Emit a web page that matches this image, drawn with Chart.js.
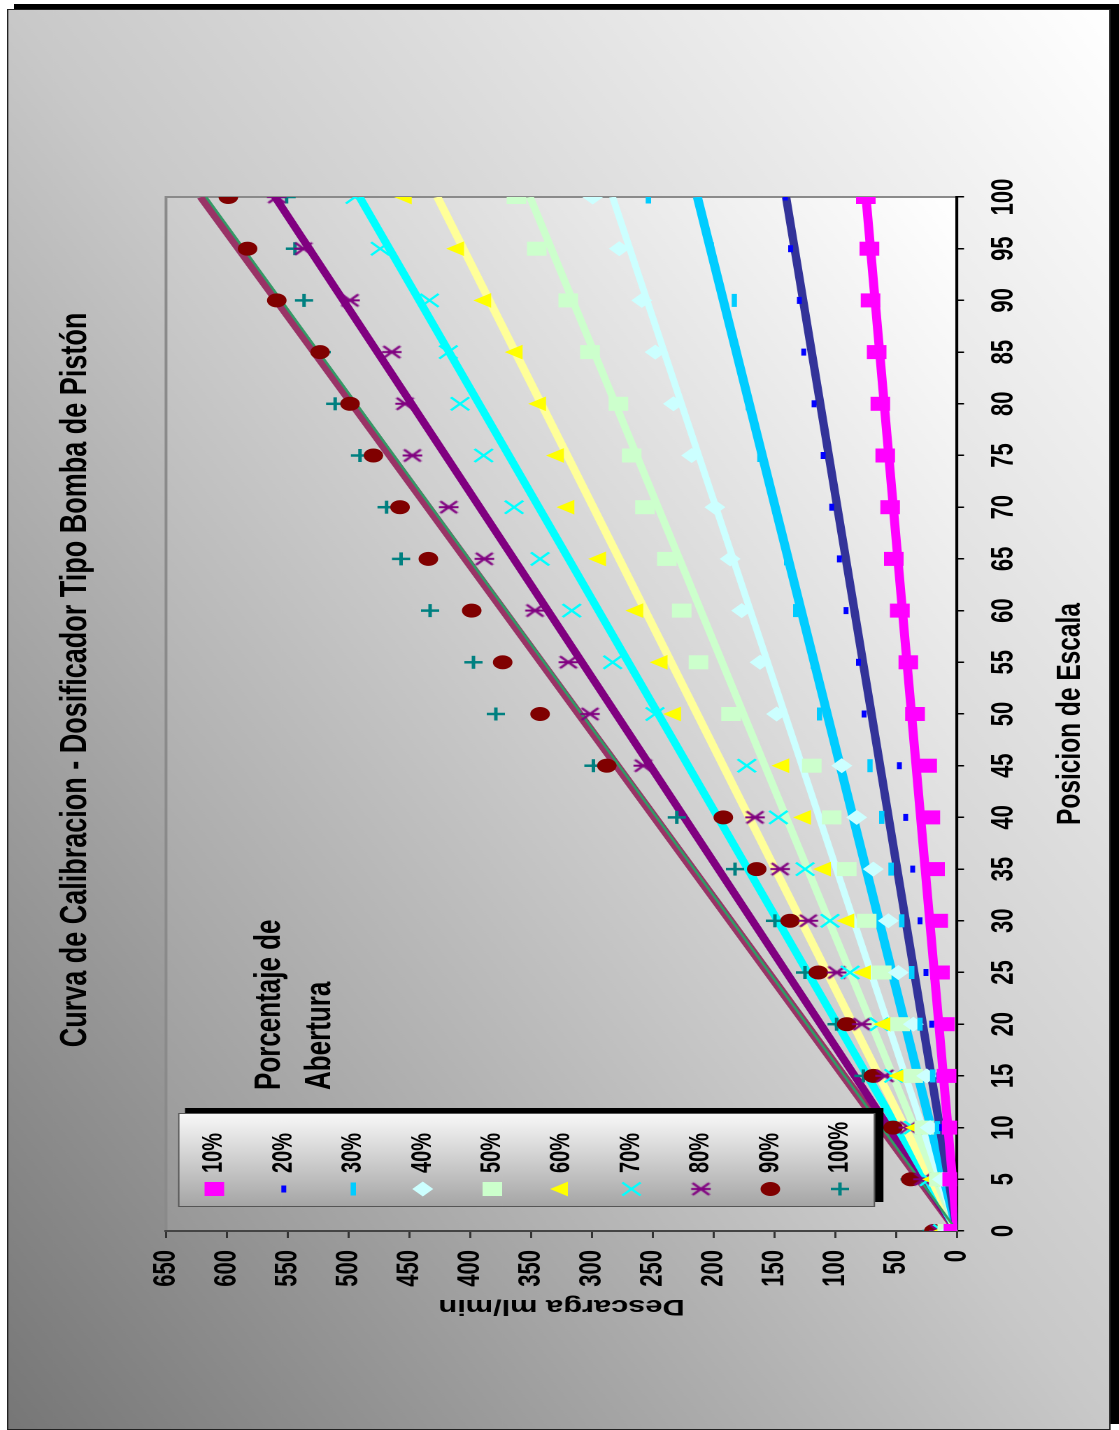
<!DOCTYPE html>
<html>
<head>
<meta charset="utf-8">
<title>Curva de Calibracion - Dosificador Tipo Bomba de Pistón</title>
<script src="https://cdn.jsdelivr.net/npm/chart.js@4.4.1/dist/chart.umd.min.js"></script>
<style>
  html, body { margin: 0; padding: 0; background: #fff; overflow: hidden; }
  body { width: 1119px; height: 1430px; position: relative; }
  /* el grafico se dibuja acostado y se gira, como en la hoja original */
  #giro { position: absolute; left: 0; top: 0; width: 1430px; height: 800px;
          transform-origin: 0 0;
          transform: translate(0, 1430px) rotate(-90deg) scaleY(1.39875); }
</style>
</head>
<body>
<div id="giro"><canvas id="curva" width="1430" height="800"></canvas></div>
<script>
// Posicion de escala (eje X)
const posiciones = [0, 5, 10, 15, 20, 25, 30, 35, 40, 45, 50, 55, 60, 65, 70, 75, 80, 85, 90, 95, 100];

// Descarga ml/min para cada porcentaje de abertura
const abertura10  = [3, 4, 4.4, 8.5, 10, 14, 15.4, 18, 22, 24.5, 34.5, 40, 47, 52, 55, 59, 63, 66, 71, 72, 75];
const abertura20  = [4, 6, 12.6, 15, 20.8, 25.5, 30.4, 36.4, 42.2, 47.4, 76.4, 81, 91.2, 96.7, 103, 110, 117.5, 126, 129.6, 136.7, 141];
const abertura30  = [5, 9, 16, 20, 30.4, 37.2, 45.4, 54.2, 61.9, 71.5, 113, 118, 132.5, 140, 149.6, 162, 171.5, 181, 183, 202, 253.6];
const abertura40  = [6, 12, 22, 25, 35.9, 48.2, 56.4, 68.8, 82.4, 94.7, 148.2, 161.9, 177, 186.5, 198.9, 218, 233, 248, 259, 277.5, 299.4];
const abertura50  = [8, 15, 27, 36, 46.8, 61.9, 74.2, 90.6, 103, 119.4, 185.7, 212.5, 226.2, 238.5, 256.4, 267.3, 278.3, 301.6, 319.5, 345.4, 362];
const abertura60  = [10, 19, 33, 46.8, 59.2, 75.6, 89.3, 108.5, 124.9, 142.7, 231.7, 242.7, 262.7, 293.3, 319.4, 328, 342.6, 361.8, 387.8, 410, 453];
const abertura70  = [12, 23, 36, 52, 64, 87.9, 104.4, 124.9, 146.8, 172.8, 248.2, 283, 316.6, 342.6, 364, 389, 408.4, 418, 433.5, 474, 494.7];
const abertura80  = [15, 28, 40, 59.2, 78.3, 98.9, 122.2, 145.4, 166, 257.8, 301.6, 319.4, 346.8, 388.4, 417.7, 447.5, 453.6, 464.5, 498.8, 537, 559];
const abertura90  = [19, 38, 52.6, 68.8, 90.6, 114, 137.2, 164.6, 192, 287.8, 342.6, 373.3, 398.8, 434.4, 457.7, 479.6, 498.8, 523.4, 559, 583, 598.8];
const abertura100 = [21, 39, 55, 77, 98.9, 124.9, 149.6, 182.4, 230.3, 298.8, 379, 397.4, 433, 456.9, 468.7, 490.6, 511, 522, 536.6, 544, 551];

const etiquetas = ['10%', '20%', '30%', '40%', '50%', '60%', '70%', '80%', '90%', '100%'];

// lineas de tendencia: valor en posicion 0 y en posicion 100
const tendenciaInicio = [0, 0, 0, 0, 0, 0, 0, 0, 0, 0];
const tendenciaFin    = [74.8, 140.5, 213.4, 283, 351, 427, 491, 560.4, 621, 617];

// eje de descarga
const descargaMin = 0, descargaMax = 650, descargaPaso = 50;

const series = [abertura10, abertura20, abertura30, abertura40, abertura50,
                abertura60, abertura70, abertura80, abertura90, abertura100];

const S = 1.39875; // estiramiento vertical del dibujo acostado

// asterisco: aspa con una barra (marcador del 80%)
function asterisco(color) {
  const c = document.createElement('canvas');
  c.width = 16; c.height = 16;
  const g = c.getContext('2d');
  g.strokeStyle = color;
  g.lineWidth = 2;
  g.beginPath();
  g.moveTo(2, 2); g.lineTo(14, 14);
  g.moveTo(14, 2); g.lineTo(2, 14);
  g.moveTo(8, 1); g.lineTo(8, 15);
  g.stroke();
  return c;
}

// estilo de cada serie (marcador y linea de tendencia)
const estilos = [
  { color: '#FF00FF', linea: '#FF00FF', forma: 'rect',     r: 9.2, bw: 1,   lw: 6.5 },
  { color: '#0000FF', linea: '#333399', forma: 'line',     r: 3.5, bw: 3.5, lw: 6 },
  { color: '#00CCFF', linea: '#00CCFF', forma: 'line',     r: 6.5, bw: 3.8, lw: 6.5 },
  { color: '#CCFFFF', linea: '#CCFFFF', forma: 'rectRot',  r: 6.8, bw: 1,   lw: 5 },
  { color: '#CCFFCC', linea: '#CCFFCC', forma: 'rect',     r: 9.2, bw: 1,   lw: 5.5 },
  { color: '#FFFF00', linea: '#FFFF99', forma: 'triangle', r: 7.5, bw: 1,   lw: 6 },
  { color: '#00FFFF', linea: '#00FFFF', forma: 'crossRot', r: 9.2, bw: 2,   lw: 6 },
  { color: '#800080', linea: '#800080', forma: asterisco('#800080'), r: 8, bw: 2, lw: 6 },
  { color: '#800000', linea: '#993366', forma: 'circle',   r: 6.5, bw: 1,   lw: 6.5 },
  { color: '#008080', linea: '#339966', forma: 'cross',    r: 6.5, bw: 2.5, lw: 2 }
];

const fuente = "'Liberation Sans', Arial, Helvetica, sans-serif";
Chart.defaults.font.family = fuente;
Chart.defaults.font.weight = 'bold';
Chart.defaults.color = '#000';

// datasets: puntos medidos + linea de tendencia por serie
const datasets = [];
series.forEach((serie, i) => {
  const e = estilos[i];
  datasets.push({
    type: 'scatter',
    label: etiquetas[i],
    data: posiciones.map((p, k) => ({ x: p, y: serie[k] })),
    pointStyle: e.forma,
    pointRadius: e.r,
    pointBackgroundColor: e.color,
    pointBorderColor: e.color,
    pointBorderWidth: e.bw,
    order: 0
  });
});
series.forEach((serie, i) => {
  const e = estilos[i];
  datasets.push({
    type: 'line',
    label: 'Tendencia ' + etiquetas[i],
    data: [
      { x: posiciones[0], y: tendenciaInicio[i] },
      { x: posiciones[posiciones.length - 1], y: tendenciaFin[i] }
    ],
    borderColor: e.linea,
    borderWidth: e.lw,
    pointRadius: 0,
    fill: false,
    order: i === 9 ? 1 : 2
  });
});

// degradado diagonal medido en la imagen ya estirada (esquinas opuestas en el tono medio)
function degradado(ctx, x0, y0, w, h, paradas) {
  const W = w, H = h * S;
  const d = Math.hypot(W, H);
  const Dx = H / d, Dy = W / d;
  const L = W * H / d;            // media longitud de la linea del degradado
  const qx = Dx / (2 * L), qy = S * Dy / (2 * L);
  const q2 = qx * qx + qy * qy;
  const vx = qx / q2, vy = qy / q2;
  const cx = x0 + w / 2, cy = y0 + h / 2;
  const g = ctx.createLinearGradient(cx - vx / 2, cy - vy / 2, cx + vx / 2, cy + vy / 2);
  paradas.forEach(([t, c]) => g.addColorStop(t, c));
  return g;
}

const fondo = {
  id: 'fondo',
  beforeDraw(chart) {
    const ctx = chart.ctx;
    const a = chart.chartArea;
    ctx.save();
    // marco exterior con sombra
    ctx.fillStyle = '#000';
    ctx.fillRect(6, 10, 1420, 790);
    ctx.fillStyle = degradado(ctx, 0, 5, 1421, 789, [[0, '#767676'], [0.5, '#c8c8c8'], [1, '#ffffff']]);
    ctx.fillRect(0, 5, 1421, 789);
    ctx.strokeStyle = '#222';
    ctx.lineWidth = 1;
    ctx.strokeRect(0.5, 5.5, 1420, 788);
    // area de trazado
    ctx.fillStyle = degradado(ctx, a.left, a.top, a.width, a.height, [[0, '#979797'], [0.5, '#cdcdcd'], [1, '#ffffff']]);
    ctx.fillRect(a.left, a.top, a.width, a.height);
    ctx.strokeStyle = '#8a8a8a';
    ctx.lineWidth = 2;
    ctx.strokeRect(a.left, a.top, a.width, a.height);
    ctx.restore();
  }
};

const rotulos = {
  id: 'rotulos',
  afterDraw(chart) {
    const ctx = chart.ctx;
    ctx.save();
    // titulo
    ctx.fillStyle = '#000';
    ctx.font = 'bold 27px ' + fuente;
    ctx.textAlign = 'center';
    ctx.textBaseline = 'middle';
    ctx.fillText('Curva de Calibracion - Dosificador Tipo Bomba de Pistón', 750, 54);

    // leyenda
    const lx = 223, ly = 127.3, lw = 94, lh = 498.3;
    ctx.fillStyle = '#000';
    ctx.fillRect(lx + 5, ly + 5, lw, lh + 1);
    const g = ctx.createLinearGradient(lx, 0, lx + lw, 0);
    g.addColorStop(0, '#a4a4a4');
    g.addColorStop(1, '#f8f8f8');
    ctx.fillStyle = g;
    ctx.fillRect(lx, ly, lw, lh);
    ctx.strokeStyle = '#555';
    ctx.lineWidth = 1;
    ctx.strokeRect(lx + 0.5, ly + 0.5, lw - 1, lh - 1);

    etiquetas.forEach((t, i) => {
      const e = estilos[i];
      const y = 153.2 + i * 49.7;
      ctx.fillStyle = e.color;
      ctx.strokeStyle = e.color;
      ctx.lineWidth = e.bw;
      Chart.helpers.drawPoint(ctx, { pointStyle: e.forma, radius: e.r, borderWidth: e.bw, rotation: 0 }, 241, y);
      ctx.fillStyle = '#000';
      ctx.font = 'bold 20px ' + fuente;
      ctx.textAlign = 'left';
      ctx.textBaseline = 'middle';
      ctx.fillText(t, 257, y);
    });

    // titulo de la leyenda
    ctx.fillStyle = '#000';
    ctx.font = 'bold 26px ' + fuente;
    ctx.textAlign = 'left';
    ctx.textBaseline = 'middle';
    ctx.fillText('Porcentaje de', 340, 193);
    ctx.fillText('Abertura', 340, 229);
    ctx.restore();
  }
};

new Chart(document.getElementById('curva').getContext('2d'), {
  type: 'scatter',
  data: { datasets: datasets },
  options: {
    responsive: false,
    animation: false,
    devicePixelRatio: 2,
    layout: { padding: { left: 0, right: 197, top: 118.7, bottom: 0 } },
    plugins: { legend: { display: false }, tooltip: { enabled: false } },
    scales: {
      x: {
        type: 'linear', position: 'bottom', min: 0, max: 100,
        ticks: { stepSize: 5, autoSkip: false, maxRotation: 0, padding: 15.5,
                 font: { size: 22, weight: 'bold' }, color: '#000' },
        grid: { drawOnChartArea: false, tickLength: 5, color: '#000', lineWidth: 1.5 },
        border: { display: true, color: '#000', width: 2 },
        title: { display: true, text: 'Posicion de Escala', color: '#000',
                 font: { size: 24.5, weight: 'bold' }, padding: { top: 0, bottom: 20.3 } },
        afterFit(s) { s.height = 800 - 684.2; }
      },
      y: {
        type: 'linear', position: 'left', min: descargaMin, max: descargaMax,
        ticks: { stepSize: descargaPaso, padding: 12, font: { size: 22, weight: 'bold' }, color: '#000' },
        grid: { drawOnChartArea: false, tickLength: 7, color: '#333', lineWidth: 1.5 },
        border: { display: true, color: '#444', width: 2 },
        title: { display: true, text: 'Descarga ml/min', color: '#000',
                 font: { size: 22, weight: 'bold' }, padding: { top: 110.8, bottom: 0 } },
        afterFit(s) { s.width = 199; }
      }
    }
  },
  plugins: [fondo, rotulos]
});
</script>
</body>
</html>
